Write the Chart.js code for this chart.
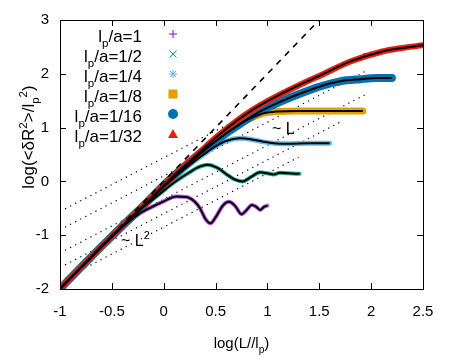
<!DOCTYPE html>
<html>
<head>
<meta charset="utf-8">
<script src="https://cdn.jsdelivr.net/npm/chart.js@4/dist/chart.umd.min.js"></script>
<style>
  html, body { margin: 0; padding: 0; background: #fff; }
  canvas { display: block; }
</style>
</head>
<body>
<canvas id="chart" width="450" height="359"></canvas>
<script>
// tick values
const xTicks = [-1, -0.5, 0, 0.5, 1, 1.5, 2, 2.5];
const yTicks = [-2, -1, 0, 1, 2, 3];

// legend labels (value after "lp/a=")
const ratioLabels = ['1', '1/2', '1/4', '1/8', '1/16', '1/32'];

// lp/a = 1
const purpleX = [-1, -0.8, -0.6, -0.4, -0.25, -0.13, 0, 0.12, 0.22, 0.3, 0.35, 0.4, 0.45, 0.5, 0.57, 0.63, 0.69, 0.75, 0.8, 0.85, 0.89, 0.93, 0.97, 1.0];
const purpleY = [-2.0, -1.61, -1.22, -0.85, -0.62, -0.49, -0.37, -0.28, -0.29, -0.38, -0.5, -0.69, -0.78, -0.67, -0.45, -0.38, -0.46, -0.61, -0.53, -0.44, -0.47, -0.53, -0.47, -0.45];

// lp/a = 1/2
const greenX = [-1, -0.8, -0.6, -0.4, -0.2, -0.05, 0.1, 0.25, 0.33, 0.42, 0.52, 0.6, 0.68, 0.76, 0.84, 0.93, 1.0, 1.06, 1.12, 1.2, 1.31];
const greenY = [-2.0, -1.6, -1.21, -0.84, -0.48, -0.25, -0.02, 0.17, 0.26, 0.31, 0.25, 0.14, 0.04, 0.0, 0.08, 0.17, 0.15, 0.13, 0.16, 0.15, 0.14];

// lp/a = 1/4
const skyX = [-1, -0.8, -0.6, -0.4, -0.2, 0, 0.25, 0.4, 0.5, 0.6, 0.73, 0.85, 0.95, 1.06, 1.2, 1.4, 1.6];
const skyY = [-2.0, -1.6, -1.21, -0.84, -0.47, -0.1, 0.31, 0.52, 0.65, 0.75, 0.8, 0.78, 0.74, 0.71, 0.7, 0.71, 0.71];

// lp/a = 1/8
const orangeX = [-1, -0.8, -0.6, -0.4, -0.2, 0, 0.2, 0.4, 0.6, 0.8, 0.95, 1.1, 1.3, 1.5, 1.7, 1.92];
const orangeY = [-2.0, -1.6, -1.21, -0.83, -0.46, -0.08, 0.27, 0.59, 0.89, 1.14, 1.26, 1.3, 1.31, 1.31, 1.31, 1.31];

// lp/a = 1/16
const blueX = [-1, -0.8, -0.6, -0.4, -0.2, 0, 0.2, 0.4, 0.55, 0.7, 0.9, 1.1, 1.3, 1.5, 1.7, 1.9, 2.05, 2.2];
const blueY = [-2.0, -1.6, -1.21, -0.83, -0.46, -0.07, 0.28, 0.6, 0.82, 1.02, 1.27, 1.46, 1.62, 1.76, 1.86, 1.9, 1.92, 1.92];

// lp/a = 1/32
const redX = [-1, -0.8, -0.6, -0.4, -0.2, 0, 0.2, 0.35, 0.5, 0.7, 0.85, 1.0, 1.2, 1.35, 1.5, 1.8, 2.1, 2.3, 2.5];
const redY = [-2.0, -1.6, -1.21, -0.83, -0.46, -0.07, 0.29, 0.55, 0.81, 1.12, 1.32, 1.49, 1.69, 1.83, 1.96, 2.23, 2.41, 2.48, 2.53];

// ~L^2 dashed guide
const dashX = [-1, 1.5];
const dashY = [-2, 3];

// ~L dotted guides (start and end points)
const dotStartX = [-1, -1, -1, -1, -1];
const dotStartY = [-0.56, -0.9, -1.33, -1.6, -1.85];
const dotEndX = [1.97, 1.97, 1.97, 1.7, 1.3];
const dotEndY = [2.41, 2.07, 1.64, 1.1, 0.45];

const colors = ['#9400d3', '#009e73', '#56b4e9', '#e69f00', '#0072b2', '#e51e10'];
const bandColors = ['rgba(170,60,220,0.85)', 'rgba(0,158,115,0.85)', 'rgba(86,180,233,0.9)', '#e69f00', '#0072b2', '#e51e10'];
const bandWidths = [4, 4, 5, 7, 8, 6];
const seriesX = [purpleX, greenX, skyX, orangeX, blueX, redX];
const seriesY = [purpleY, greenY, skyY, orangeY, blueY, redY];

function pts(xs, ys) {
    return xs.map((x, i) => ({ x: x, y: ys[i] }));
}

let datasets = [];
// black model curves on top
seriesX.forEach((xs, i) => {
    datasets.push({
        data: pts(xs, seriesY[i]),
        borderColor: '#000',
        borderWidth: 2,
        pointRadius: 0,
        cubicInterpolationMode: 'monotone',
        order: 1
    });
});
// coloured simulation bands
seriesX.forEach((xs, i) => {
    datasets.push({
        data: pts(xs, seriesY[i]),
        borderColor: bandColors[i],
        borderWidth: bandWidths[i],
        borderCapStyle: 'round',
        pointRadius: 0,
        cubicInterpolationMode: 'monotone',
        order: 10 - i
    });
});
datasets.push({
    data: pts(dashX, dashY),
    borderColor: '#000',
    borderWidth: 1.6,
    borderDash: [6, 6],
    pointRadius: 0,
    order: 0
});
dotStartX.forEach((x0, i) => {
    datasets.push({
        data: [{ x: x0, y: dotStartY[i] }, { x: dotEndX[i], y: dotEndY[i] }],
        borderColor: '#000',
        borderWidth: 1.2,
        borderDash: [1.2, 4.5],
        pointRadius: 0,
        order: 20
    });
});

const FONT = '"Liberation Sans", Arial, sans-serif';

// draws text pieces with sub/superscripts
function richWidth(ctx, parts, size) {
    let w = 0;
    parts.forEach(p => {
        let s = p.sub || p.sup ? size * 0.68 : size;
        ctx.font = s + 'px ' + FONT;
        w += ctx.measureText(p.t).width;
    });
    return w;
}
function drawRich(ctx, parts, x, y, size, align) {
    let w = richWidth(ctx, parts, size);
    let cx = align === 'right' ? x - w : align === 'center' ? x - w / 2 : x;
    ctx.textAlign = 'left';
    ctx.textBaseline = 'alphabetic';
    parts.forEach(p => {
        let s = p.sub || p.sup ? size * 0.68 : size;
        let dy = p.sub ? size * 0.3 : p.sup ? -size * 0.42 : 0;
        ctx.font = s + 'px ' + FONT;
        ctx.fillText(p.t, cx, y + dy);
        cx += ctx.measureText(p.t).width;
    });
}

function drawMarker(ctx, kind, x, y, color) {
    ctx.save();
    ctx.strokeStyle = color;
    ctx.fillStyle = color;
    ctx.lineWidth = 1;
    ctx.beginPath();
    if (kind === 0) {
        ctx.moveTo(x - 4, y); ctx.lineTo(x + 4, y);
        ctx.moveTo(x, y - 4); ctx.lineTo(x, y + 4);
        ctx.stroke();
    } else if (kind === 1) {
        ctx.moveTo(x - 3.5, y - 3.5); ctx.lineTo(x + 3.5, y + 3.5);
        ctx.moveTo(x - 3.5, y + 3.5); ctx.lineTo(x + 3.5, y - 3.5);
        ctx.stroke();
    } else if (kind === 2) {
        ctx.moveTo(x - 4, y); ctx.lineTo(x + 4, y);
        ctx.moveTo(x, y - 4); ctx.lineTo(x, y + 4);
        ctx.moveTo(x - 3, y - 3); ctx.lineTo(x + 3, y + 3);
        ctx.moveTo(x - 3, y + 3); ctx.lineTo(x + 3, y - 3);
        ctx.stroke();
    } else if (kind === 3) {
        ctx.fillRect(x - 4.5, y - 4.5, 9, 9);
    } else if (kind === 4) {
        ctx.arc(x, y, 5, 0, Math.PI * 2);
        ctx.fill();
    } else {
        ctx.moveTo(x, y - 5); ctx.lineTo(x + 5, y + 4); ctx.lineTo(x - 5, y + 4);
        ctx.closePath();
        ctx.fill();
    }
    ctx.restore();
}

const decorPlugin = {
    id: 'decor',
    afterDraw(chart) {
        const ctx = chart.ctx;
        const a = chart.chartArea;
        const xs = chart.scales.x, ys = chart.scales.y;
        ctx.save();
        ctx.fillStyle = '#000';
        ctx.strokeStyle = '#000';
        ctx.lineWidth = 1;
        // frame
        ctx.strokeRect(Math.round(a.left) + 0.5, Math.round(a.top) + 0.5, Math.round(a.right - a.left), Math.round(a.bottom - a.top));
        // inner ticks on all sides
        ctx.beginPath();
        xTicks.forEach(v => {
            let px = Math.round(xs.getPixelForValue(v)) + 0.5;
            ctx.moveTo(px, a.bottom); ctx.lineTo(px, a.bottom - 6);
            ctx.moveTo(px, a.top); ctx.lineTo(px, a.top + 6);
        });
        yTicks.forEach(v => {
            let py = Math.round(ys.getPixelForValue(v)) + 0.5;
            ctx.moveTo(a.left, py); ctx.lineTo(a.left + 6, py);
            ctx.moveTo(a.right, py); ctx.lineTo(a.right - 6, py);
        });
        ctx.stroke();

        // axis titles
        drawRich(ctx, [{ t: 'log(L//l' }, { t: 'p', sub: true }, { t: ')' }], (a.left + a.right) / 2, 348, 15, 'center');
        ctx.save();
        ctx.translate(34, 137);
        ctx.rotate(-Math.PI / 2);
        drawRich(ctx, [{ t: 'log(<δR' }, { t: '2', sup: true }, { t: '>/l' }, { t: 'p', sub: true }, { t: '2', sup: true }, { t: ')' }], 0, 0, 17, 'center');
        ctx.restore();

        // annotations
        drawRich(ctx, [{ t: '~ L' }, { t: '2', sup: true }], 121, 246, 16, 'left');
        drawRich(ctx, [{ t: '~ L' }], 272, 134, 16, 'left');

        // legend
        ratioLabels.forEach((r, i) => {
            let y = 34 + i * 20;
            drawRich(ctx, [{ t: 'l' }, { t: 'p', sub: true }, { t: '/a=' + r }], 142, y + 8, 17, 'right');
            drawMarker(ctx, i, 173, y, colors[i]);
        });
        ctx.restore();
    }
};

new Chart(document.getElementById('chart'), {
    type: 'line',
    data: { datasets: datasets },
    options: {
        responsive: false,
        devicePixelRatio: 1,
        animation: false,
        layout: { padding: { top: 17, right: 27, left: 0, bottom: 0 } },
        plugins: { legend: { display: false }, tooltip: { enabled: false } },
        scales: {
            x: {
                type: 'linear',
                min: -1, max: 2.5,
                afterFit: s => { s.height = 70; },
                afterBuildTicks: s => { s.ticks = xTicks.map(v => ({ value: v })); },
                grid: { display: false, drawTicks: false },
                border: { display: false },
                ticks: { padding: 14, color: '#000', font: { family: FONT, size: 15 }, maxRotation: 0, callback: v => String(v) }
            },
            y: {
                type: 'linear',
                min: -2, max: 3,
                afterFit: s => { s.width = 60; },
                afterBuildTicks: s => { s.ticks = yTicks.map(v => ({ value: v })); },
                grid: { display: false, drawTicks: false },
                border: { display: false },
                ticks: { padding: 11, color: '#000', font: { family: FONT, size: 15 }, callback: v => String(v) }
            }
        }
    },
    plugins: [decorPlugin]
});
</script>
</body>
</html>
